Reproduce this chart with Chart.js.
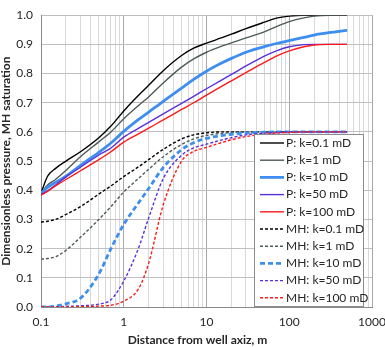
<!DOCTYPE html>
<html>
<head>
<meta charset="utf-8">
<script src="https://cdn.jsdelivr.net/npm/chart.js"></script>
<style>
  html, body { margin: 0; padding: 0; background: #fff; }
  #wrap { width: 385px; height: 347px; position: relative; }
</style>
</head>
<body>
<div id="wrap"><canvas id="c"></canvas></div>
<script>
// distancia desde el eje del pozo (m)
const distance = [0.1, 0.12, 0.15, 0.2, 0.3, 0.5, 0.7, 1, 1.5, 2, 3, 5, 7, 10, 15, 20, 30, 50, 70, 100, 150, 200, 300, 500];

// presion adimensional
const pK01  = [0.390, 0.448, 0.475, 0.500, 0.532, 0.580, 0.620, 0.672, 0.725, 0.760, 0.810, 0.862, 0.887, 0.904, 0.922, 0.935, 0.954, 0.976, 0.990, 0.997, 1.000, 1.000, 1.000, 1.000];
const pK1   = [0.390, 0.418, 0.437, 0.468, 0.515, 0.566, 0.600, 0.645, 0.690, 0.720, 0.768, 0.822, 0.850, 0.873, 0.893, 0.905, 0.922, 0.943, 0.961, 0.978, 0.991, 0.997, 1.000, 1.000];
const pK10  = [0.390, 0.410, 0.427, 0.448, 0.485, 0.530, 0.562, 0.602, 0.642, 0.668, 0.705, 0.750, 0.780, 0.808, 0.835, 0.852, 0.873, 0.892, 0.903, 0.913, 0.924, 0.932, 0.940, 0.948];
const pK50  = [0.385, 0.398, 0.418, 0.446, 0.479, 0.521, 0.545, 0.582, 0.612, 0.633, 0.662, 0.698, 0.722, 0.748, 0.777, 0.797, 0.826, 0.860, 0.878, 0.892, 0.899, 0.900, 0.900, 0.900];
const pK100 = [0.383, 0.396, 0.415, 0.437, 0.467, 0.505, 0.532, 0.565, 0.593, 0.613, 0.641, 0.677, 0.700, 0.726, 0.755, 0.775, 0.803, 0.838, 0.860, 0.878, 0.892, 0.898, 0.900, 0.900];

// saturacion de MH
const mhK01  = [0.291, 0.294, 0.300, 0.317, 0.344, 0.387, 0.415, 0.447, 0.480, 0.505, 0.540, 0.576, 0.590, 0.597, 0.600, 0.600, 0.600, 0.600, 0.600, 0.600, 0.600, 0.600, 0.600, 0.600];
const mhK1   = [0.164, 0.166, 0.172, 0.194, 0.239, 0.300, 0.344, 0.394, 0.440, 0.472, 0.515, 0.557, 0.576, 0.588, 0.595, 0.598, 0.600, 0.600, 0.600, 0.600, 0.600, 0.600, 0.600, 0.600];
const mhK10  = [0.000, 0.000, 0.003, 0.011, 0.030, 0.113, 0.200, 0.283, 0.356, 0.406, 0.478, 0.539, 0.563, 0.578, 0.587, 0.592, 0.596, 0.599, 0.600, 0.600, 0.600, 0.600, 0.600, 0.600];
const mhK50  = [0.000, 0.000, 0.000, 0.002, 0.004, 0.010, 0.025, 0.089, 0.200, 0.305, 0.440, 0.520, 0.545, 0.558, 0.572, 0.580, 0.590, 0.596, 0.598, 0.600, 0.600, 0.600, 0.600, 0.600];
const mhK100 = [0.000, 0.000, 0.000, 0.000, 0.001, 0.003, 0.006, 0.020, 0.061, 0.150, 0.350, 0.500, 0.533, 0.547, 0.563, 0.573, 0.584, 0.592, 0.596, 0.598, 0.600, 0.600, 0.600, 0.600];

const seriesNames = [
  'P: k=0.1 mD', 'P: k=1 mD', 'P: k=10 mD', 'P: k=50 mD', 'P: k=100 mD',
  'MH: k=0.1 mD', 'MH: k=1 mD', 'MH: k=10 mD', 'MH: k=50 mD', 'MH: k=100 mD'
];
const seriesValues = [pK01, pK1, pK10, pK50, pK100, mhK01, mhK1, mhK10, mhK50, mhK100];

const xTickLabels = ['0.1', '1', '10', '100', '1000'];
const yTickLabels = ['0.0', '0.1', '0.2', '0.3', '0.4', '0.5', '0.6', '0.7', '0.8', '0.9', '1.0'];

const xTitle = 'Distance from well axiz, m';
const yTitle = 'Dimensionless pressure, MH saturation';

// estilos por serie
const colores = ['#000000', '#4f5a5a', '#3d8eef', '#5a2fdc', '#ff1a1a'];
function estilo(i) {
  const base = i % 5;
  const dashed = i >= 5;
  const thick = base === 2;
  return {
    color: colores[base],
    width: thick ? 2.8 : 1.4,
    dash: dashed ? (thick ? [5, 3] : [3, 2]) : []
  };
}

const FONT = 'Lato, "Open Sans", sans-serif';
const TXT = '#262626';

function esDecada(v) {
  const l = Math.log10(v);
  return Math.abs(l - Math.round(l)) < 1e-6;
}

const datasets = seriesValues.map((vals, i) => {
  const s = estilo(i);
  return {
    label: seriesNames[i],
    data: distance.map((x, j) => ({ x: x, y: vals[j] })),
    borderColor: s.color,
    backgroundColor: s.color,
    borderWidth: s.width,
    borderDash: s.dash,
    pointRadius: 0,
    fill: false,
    cubicInterpolationMode: 'monotone',
    order: seriesValues.length - i
  };
});

// leyenda dentro del area de trazado + titulo del eje x
const legendPlugin = {
  id: 'legendBox',
  afterDraw(chart) {
    const { ctx, chartArea } = chart;
    const w = 110, h = 173;
    const x0 = chartArea.right - 8 - w;
    const y0 = chartArea.bottom - h;
    ctx.save();
    ctx.fillStyle = '#ffffff';
    ctx.fillRect(x0, y0, w, h);
    ctx.strokeStyle = '#8c8c8c';
    ctx.lineWidth = 1;
    ctx.strokeRect(x0 + 0.5, y0 + 0.5, w - 1, h - 1);
    ctx.font = '12px ' + FONT;
    ctx.textBaseline = 'middle';
    seriesNames.forEach((name, i) => {
      const s = estilo(i);
      const y = y0 + 9 + i * 17.2;
      ctx.beginPath();
      ctx.strokeStyle = s.color;
      ctx.lineWidth = s.width;
      ctx.setLineDash(s.dash);
      ctx.moveTo(x0 + 6, y);
      ctx.lineTo(x0 + 30, y);
      ctx.stroke();
      ctx.setLineDash([]);
      ctx.fillStyle = TXT;
      ctx.fillText(name, x0 + 32, y);
    });

    // titulo del eje x (algo a la izquierda del centro, como en Excel)
    ctx.font = 'bold 12px ' + FONT;
    ctx.textAlign = 'center';
    ctx.fillText(xTitle, (chartArea.left + chartArea.right) / 2 - 9, chart.height - 7);
    ctx.restore();
  }
};

new Chart(document.getElementById('c'), {
  type: 'line',
  data: { datasets },
  options: {
    responsive: true,
    maintainAspectRatio: false,
    animation: false,
    layout: { padding: { top: 5, right: 13, bottom: 0, left: 0 } },
    plugins: {
      legend: { display: false },
      tooltip: { enabled: false },
      title: { display: false }
    },
    scales: {
      x: {
        type: 'logarithmic',
        min: 0.1,
        max: 1000,
        afterBuildTicks(scale) {
          const ticks = [];
          for (let d = 0; d < xTickLabels.length; d++) {
            const dec = Number(xTickLabels[d]);
            const top = d === xTickLabels.length - 1 ? 1 : 9;
            for (let k = 1; k <= top; k++) ticks.push({ value: dec * k });
          }
          scale.ticks = ticks;
        },
        afterFit(scale) {
          scale.height = 40;
          scale.paddingLeft = 0;
          scale.paddingRight = 0;
        },
        ticks: {
          autoSkip: false,
          maxRotation: 0,
          padding: 8,
          color: TXT,
          font: { family: FONT, size: 12 },
          callback(v) {
            if (!esDecada(v)) return '';
            const lbl = xTickLabels.find(t => Math.abs(Number(t) - v) < 1e-9);
            return lbl || '';
          }
        },
        grid: {
          drawTicks: false,
          color: ctx => (ctx.tick && esDecada(ctx.tick.value)) ? '#a8a8a8' : '#d9d9d9',
          lineWidth: 1
        },
        border: { color: '#8a8a8a' },
        title: { display: false }
      },
      y: {
        type: 'linear',
        min: 0,
        max: 1,
        afterBuildTicks(scale) {
          scale.ticks = yTickLabels.map(t => ({ value: Number(t) }));
        },
        afterFit(scale) {
          scale.width = 41;
        },
        ticks: {
          padding: 8,
          color: TXT,
          font: { family: FONT, size: 12 },
          callback(v) {
            const lbl = yTickLabels.find(t => Math.abs(Number(t) - v) < 1e-9);
            return lbl || '';
          }
        },
        grid: { drawTicks: false, color: '#bfbfbf', lineWidth: 1 },
        border: { color: '#8a8a8a' },
        title: {
          display: true,
          text: yTitle,
          color: TXT,
          font: { family: FONT, size: 12, weight: 'bold', lineHeight: 1 },
          padding: { top: 0, bottom: 0 }
        }
      }
    }
  },
  plugins: [legendPlugin]
});
</script>
</body>
</html>
